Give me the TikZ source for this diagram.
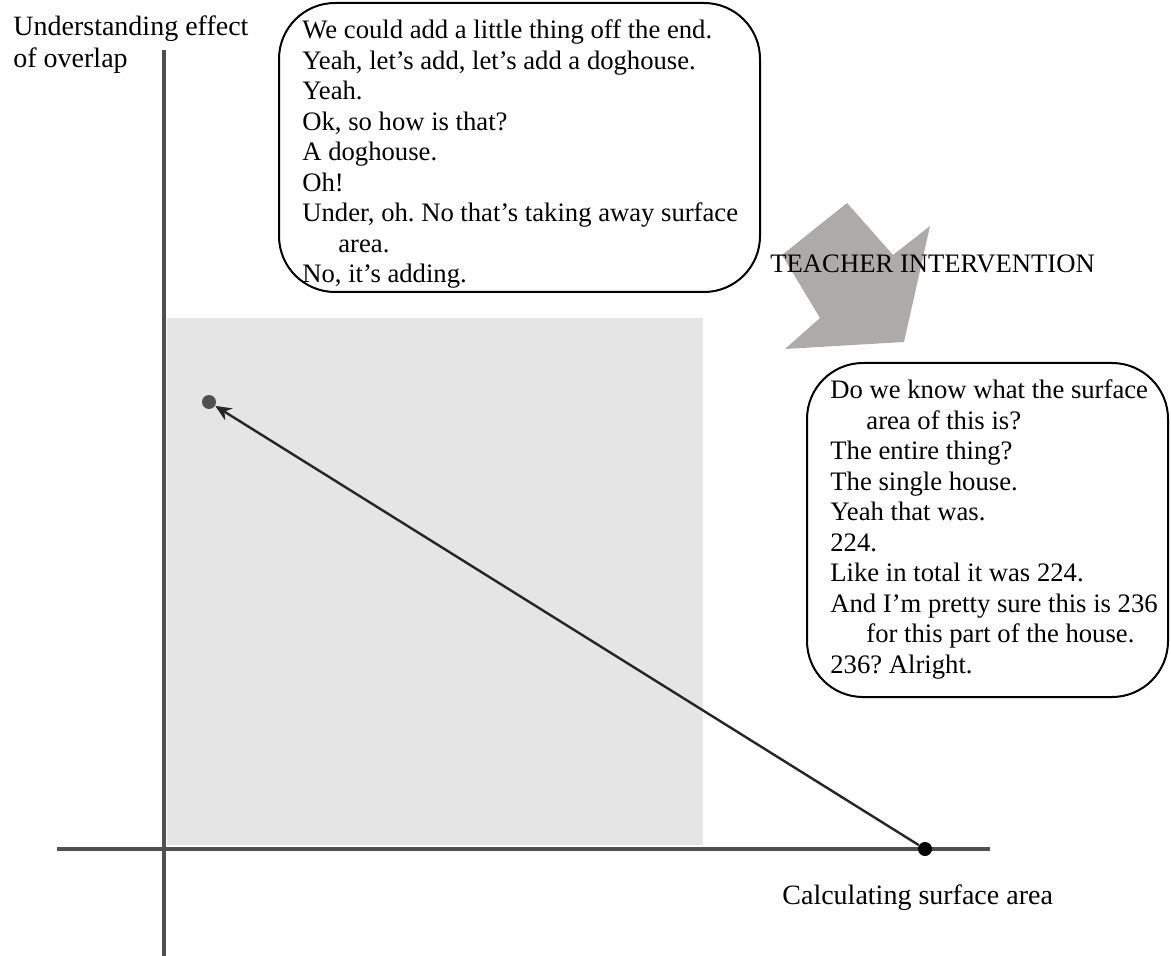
\documentclass[tikz,border=0pt]{standalone}
\usepackage{fontspec}
\setmainfont{Liberation Serif}
\usetikzlibrary{arrows.meta}
\definecolor{axisgray}{HTML}{505050}
\definecolor{regiongray}{HTML}{E5E5E5}
\definecolor{bigarrow}{HTML}{ADAAAA}
\frenchspacing
\begin{document}
\begin{tikzpicture}[x=0.5pt,y=-0.5pt,
  axis/.style={draw=axisgray, line width=1.6pt},
  bubble/.style={draw=black, fill=white, line width=1pt, rounded corners=28pt, inner sep=0pt},
  txt/.style={inner sep=0pt, font=\fontsize{13.33}{15.25}\selectfont},
  axislabel/.style={inner sep=0pt, anchor=base west, font=\fontsize{14}{16}\selectfont},
  talk/.style={txt, anchor=base west, align=left},
  dot/.style={circle, inner sep=0pt, minimum size=7pt}]

\useasboundingbox (0,0) rectangle (1171,956);

% shaded region of the plane
\fill[regiongray] (167,318) rectangle (703,845);

% axes
\coordinate (ytop) at (164,50);
\coordinate (ybot) at (164,956);
\coordinate (xleft) at (57,849);
\coordinate (xright) at (990,849);
\draw[axis] (ytop) -- (ybot);
\draw[axis] (xleft) -- (xright);

% axis labels
\node[axislabel] (ylab1) at (13,36) {Understanding effect};
\node[axislabel] (ylab2) at (13,68) {of overlap};
\node[axislabel] (xlab) at (782,904) {Calculating surface area};

% trajectory
\node[dot, fill=axisgray] (p1) at (209,402) {};
\node[dot, fill=black] (p0) at (925,849) {};
\draw[-{Stealth[length=8pt,width=7pt]}, line width=1.2pt, black!85] (p0) -- (p1);

% intervention arrow
\fill[bigarrow] (847,203) -- (893,255) -- (930,226) -- (904,342) -- (785,349)
  -- (820,318) -- (782,255) -- cycle;
\node[txt, anchor=base west] (teach) at (770,273) {TEACHER INTERVENTION};

% first dialogue bubble (base anchor sits on the last line)
\node[bubble, minimum width=240.5pt, minimum height=144.5pt] (b1) at (519.5,147.5) {};
\node[talk] (t1) at (302,283) {We could add a little thing off the end.\\
Yeah, let’s add, let’s add a doghouse.\\
Yeah.\\
Ok, so how is that?\\
A doghouse.\\
Oh!\\
Under, oh. No that’s taking away surface\\
\hspace*{18pt}area.\\
No, it’s adding.};

% second dialogue bubble
\node[bubble, minimum width=180.5pt, minimum height=167pt] (b2) at (987.5,530) {};
\node[talk] (t2) at (830,673) {Do we know what the surface\\
\hspace*{18pt}area of this is?\\
The entire thing?\\
The single house.\\
Yeah that was.\\
224.\\
Like in total it was 224.\\
And I’m pretty sure this is 236\\
\hspace*{18pt}for this part of the house.\\
236? Alright.};
\end{tikzpicture}
\end{document}
